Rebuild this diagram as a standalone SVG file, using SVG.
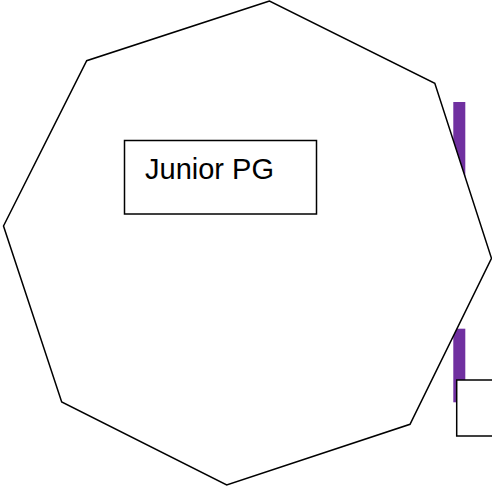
<svg xmlns="http://www.w3.org/2000/svg" width="492" height="488" viewBox="0 0 492 488">
<style>
.shape{fill:#ffffff;stroke:#000000;stroke-width:1.5}
.bar{fill:#7030a0}
.label{font-family:"Liberation Sans",Arial,sans-serif;font-size:29px;fill:#000000}
</style>
<rect x="0" y="0" width="492" height="488" fill="#ffffff"/>
<g id="bar-top">
<rect class="bar" x="453.3" y="102" width="12" height="90"/>
</g>
<g id="bar-bottom">
<rect class="bar" x="453.3" y="328.7" width="12" height="73.6"/>
</g>
<g id="octagon">
<polygon class="shape" points="269.5,1 86.7,60.7 3.5,226 61.7,402 226.7,485 410,424.3 491.5,258.3 434.8,83.3"/>
</g>
<g id="junior-pg">
<rect class="shape" x="124.5" y="140.5" width="192" height="73.5"/>
<text class="label" x="145" y="178.5">Junior PG</text>
</g>
<g id="box-right">
<rect class="shape" x="456.7" y="380" width="40" height="56"/>
</g>
<g id="connectors"/>
</svg>
